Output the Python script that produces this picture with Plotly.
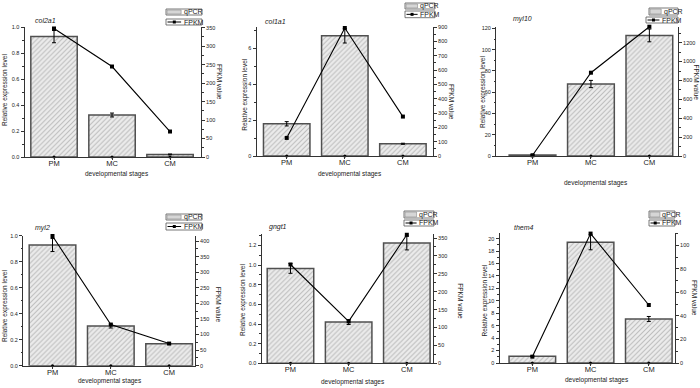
import plotly.graph_objects as go

W, H = 700, 388

# ---------------- data ----------------
stages = ["PM", "MC", "CM"]
gene_names = ["col2a1", "col1a1", "myl10", "myl2", "gngt1", "them4"]

col2a1_qpcr = [0.926, 0.323, 0.02]
col2a1_err = [0.047, 0.015, 0.003]
col2a1_fpkm = [348, 245, 69]

col1a1_qpcr = [1.79, 6.68, 0.68]
col1a1_err = [0.12, 0.4, 0.03]
col1a1_fpkm = [126, 893, 275]

myl10_qpcr = [1.0, 67.7, 113.4]
myl10_err = [0.2, 3.4, 6.0]
myl10_fpkm = [8, 882, 1369]

myl2_qpcr = [0.928, 0.305, 0.169]
myl2_err = [0.05, 0.015, 0.005]
myl2_fpkm = [416, 132, 71]

gngt1_qpcr = [0.966, 0.42, 1.224]
gngt1_err = [0.05, 0.025, 0.07]
gngt1_fpkm = [276, 117, 359]

them4_qpcr = [1.07, 19.4, 7.08]
them4_err = [0.05, 1.2, 0.4]
them4_fpkm = [5.4, 110, 49.3]

baseline_marks = [0, 0, 0]

qpcr_sets = [col2a1_qpcr, col1a1_qpcr, myl10_qpcr, myl2_qpcr, gngt1_qpcr, them4_qpcr]
err_sets = [col2a1_err, col1a1_err, myl10_err, myl2_err, gngt1_err, them4_err]
fpkm_sets = [col2a1_fpkm, col1a1_fpkm, myl10_fpkm, myl2_fpkm, gngt1_fpkm, them4_fpkm]

left_ranges = [[0, 1.0], [0, 7.17], [0, 121.6], [0, 1.0], [0, 1.319], [0, 20.9]]
right_ranges = [[0, 352], [0, 900], [0, 1369], [0, 417], [0, 362], [0, 110.5]]
left_dticks = [0.2, 2, 20, 0.2, 0.2, 2]
right_dticks = [50, 100, 200, 50, 50, 20]
left_formats = [".1f", "d", "d", ".1f", ".1f", "d"]

# ---------------- layout (pixel geometry) ----------------
boxes = [(24.5, 201, 27, 157), (256.5, 433, 27, 156), (496, 678, 26.7, 156),
         (23, 195, 235.7, 365.7), (261.5, 433, 233.7, 363.3), (499.5, 675, 233, 363)]
x_ranges = [[-0.509, 2.534], [-0.52, 2.518], [-0.625, 2.49],
            [-0.506, 2.444], [-0.498, 2.45], [-0.564, 2.45]]
gene_pos = [(33, 20), (263, 21.7), (511, 19), (33, 228), (267, 227), (512, 227)]
xtitle_pos = [(116.7, 174.5), (349.7, 174.5), (596, 182.7), (110, 380.5), (352.5, 382.3), (596.5, 380)]
ltitle_pos = [(5, 90), (244.7, 95), (482.5, 92.5), (5, 306), (243, 300), (484.5, 301)]
rtitle_pos = [(220, 82), (451, 102), (696, 82.5), (218, 304.7), (460.7, 301), (695, 298)]
legend_pos = [((166, 9, 202, 15), (166, 19, 202, 25)),
              ((405, 3, 435, 9), (405, 11, 435, 17.7)),
              ((649, 8, 678, 15), (646, 17, 678, 23)),
              ((166, 214, 202, 220), (166, 223, 202, 230)),
              ((404, 211, 434, 218), (404, 220, 434, 226)),
              ((649, 211, 675, 218), (649, 220, 675, 226))]

FONT = "Liberation Sans, Arial, sans-serif"
TXT = "#222222"
AX = "#333333"


def px(x):
    return x / W


def py(y):
    return 1 - y / H


fig = go.Figure()
layout = dict(width=W, height=H, margin=dict(l=0, r=0, t=0, b=0, autoexpand=False),
              paper_bgcolor="white", plot_bgcolor="white", showlegend=False,
              font=dict(family=FONT, color=TXT), shapes=[], annotations=[])

for k in range(6):
    xi = k + 1
    yl = 2 * k + 1
    yr = 2 * k + 2
    xname = "x" if xi == 1 else f"x{xi}"
    ylname = "y" if yl == 1 else f"y{yl}"
    yrname = f"y{yr}"
    x0, x1, y0, y1 = boxes[k]

    fig.add_trace(go.Bar(
        x=stages, y=qpcr_sets[k], xaxis=xname, yaxis=ylname, width=0.8,
        marker=dict(color="#ececec", line=dict(color="#505050", width=1.5),
                    pattern=dict(shape="/", fgcolor="#8a8a8a", bgcolor="#ececec",
                                 size=3.5, solidity=0.3)),
        error_y=dict(type="data", array=err_sets[k], visible=True, color="black",
                     thickness=1, width=2),
        name="qPCR"))
    fig.add_trace(go.Scatter(
        x=stages, y=baseline_marks, xaxis=xname, yaxis=ylname, mode="markers",
        marker=dict(color="black", size=3), cliponaxis=False, hoverinfo="skip"))
    fig.add_trace(go.Scatter(
        x=stages, y=fpkm_sets[k], xaxis=xname, yaxis=yrname, mode="lines+markers",
        line=dict(color="black", width=1.1),
        marker=dict(symbol="square", size=4, color="black"),
        cliponaxis=False, name="FPKM"))

    xkey = "xaxis" if xi == 1 else f"xaxis{xi}"
    ylkey = "yaxis" if yl == 1 else f"yaxis{yl}"
    yrkey = f"yaxis{yr}"
    layout[xkey] = dict(domain=[px(x0), px(x1)], anchor=ylname, type="category",
                        categoryorder="array", categoryarray=stages, automargin=False,
                        range=x_ranges[k], showline=True, linecolor=AX, linewidth=1,
                        ticks="outside", ticklen=2, tickcolor=AX, ticklabelstandoff=-3,
                        tickfont=dict(size=7.5, color=TXT), showgrid=False,
                        zeroline=False, fixedrange=True)
    layout[ylkey] = dict(domain=[py(y1), py(y0)], anchor=xname, range=left_ranges[k],
                         dtick=left_dticks[k], tick0=0, tickformat=left_formats[k],
                         automargin=False,
                         showline=True, linecolor=AX, linewidth=1, ticks="outside",
                         ticklen=3, tickcolor=AX, tickfont=dict(size=5.5, color=TXT),
                         minor=dict(dtick=left_dticks[k] / 2, ticks="outside",
                                    ticklen=1.5, tickcolor=AX),
                         showgrid=False, zeroline=False, fixedrange=True)
    layout[yrkey] = dict(domain=[py(y1), py(y0)], anchor=xname, overlaying=ylname,
                         side="right", range=right_ranges[k], dtick=right_dticks[k],
                         tick0=0, showline=True, linecolor=AX, linewidth=1,
                         automargin=False,
                         ticks="outside", ticklen=3, tickcolor=AX,
                         tickfont=dict(size=5.5, color=TXT),
                         minor=dict(dtick=right_dticks[k] / 2, ticks="outside",
                                    ticklen=1.5, tickcolor=AX),
                         showgrid=False, zeroline=False, fixedrange=True)

    # texts
    gx, gy = gene_pos[k]
    layout["annotations"].append(dict(
        x=px(gx), y=py(gy), xref="paper", yref="paper", xanchor="left", yanchor="middle",
        text=f"<i>{gene_names[k]}</i>", showarrow=False, font=dict(size=7, color=TXT)))
    tx, ty = xtitle_pos[k]
    layout["annotations"].append(dict(
        x=px(tx), y=py(ty), xref="paper", yref="paper", xanchor="center", yanchor="middle",
        text="developmental stages", showarrow=False, font=dict(size=6.5, color=TXT)))
    lx, ly = ltitle_pos[k]
    layout["annotations"].append(dict(
        x=px(lx), y=py(ly), xref="paper", yref="paper", xanchor="center", yanchor="middle",
        text="Relative expression level", textangle=-90, showarrow=False,
        font=dict(size=6.5, color=TXT)))
    rx, ry = rtitle_pos[k]
    layout["annotations"].append(dict(
        x=px(rx), y=py(ry), xref="paper", yref="paper", xanchor="center", yanchor="middle",
        text="FPKM value", textangle=90, showarrow=False, font=dict(size=6.5, color=TXT)))

    # custom legend boxes
    (a0, b0, a1, b1), (c0, d0, c1, d1) = legend_pos[k]
    sw = 0.42 * (a1 - a0)
    layout["shapes"].append(dict(type="rect", xref="paper", yref="paper",
                                 x0=px(a0), x1=px(a1), y0=py(b1), y1=py(b0),
                                 line=dict(color="#555555", width=0.8), fillcolor="white"))
    layout["shapes"].append(dict(type="rect", xref="paper", yref="paper",
                                 x0=px(a0 + 1), x1=px(a0 + sw), y0=py(b1 - 1), y1=py(b0 + 1),
                                 line=dict(color="#8a8a8a", width=0.6), fillcolor="#d6d6d6"))
    layout["annotations"].append(dict(
        x=px(a0 + sw + 0.5), y=py((b0 + b1) / 2), xref="paper", yref="paper",
        xanchor="left", yanchor="middle", text="qPCR", showarrow=False,
        font=dict(size=7, color=TXT)))
    sw2 = 0.42 * (c1 - c0)
    layout["shapes"].append(dict(type="rect", xref="paper", yref="paper",
                                 x0=px(c0), x1=px(c1), y0=py(d1), y1=py(d0),
                                 line=dict(color="#555555", width=0.8), fillcolor="white"))
    mid = (d0 + d1) / 2
    layout["shapes"].append(dict(type="line", xref="paper", yref="paper",
                                 x0=px(c0 + 1.5), x1=px(c0 + sw2), y0=py(mid), y1=py(mid),
                                 line=dict(color="black", width=1)))
    cx = c0 + 1.5 + (sw2 - 1.5) / 2
    layout["shapes"].append(dict(type="rect", xref="paper", yref="paper",
                                 x0=px(cx - 1.5), x1=px(cx + 1.5), y0=py(mid + 1.5),
                                 y1=py(mid - 1.5), line=dict(width=0), fillcolor="black"))
    layout["annotations"].append(dict(
        x=px(c0 + sw2 + 0.5), y=py(mid), xref="paper", yref="paper",
        xanchor="left", yanchor="middle", text="FPKM", showarrow=False,
        font=dict(size=7, color=TXT)))

fig.update_layout(**layout)
fig.write_html("out.html", config={"displayModeBar": False},
               post_script="document.body.style.margin='0';document.body.style.padding='0';"
                           "document.body.style.overflow='hidden';")
